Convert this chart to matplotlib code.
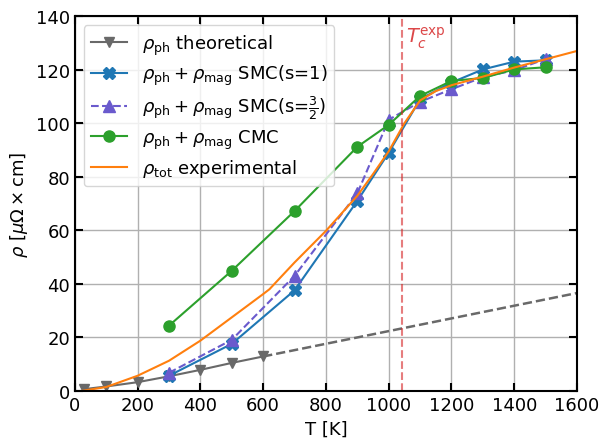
import numpy as np
import matplotlib
matplotlib.use("Agg")
import matplotlib.pyplot as plt

# phonon part (theory), dashed extrapolation above 600 K
T_ph = [30, 100, 200, 300, 400, 500, 600]
rho_ph = [0.7, 1.7, 3.3, 5.5, 7.9, 10.5, 12.9]
T_ph_ext = [600, 1600]
rho_ph_ext = [12.9, 36.6]

T_mc = [300, 500, 700, 900, 1000, 1100, 1200, 1300, 1400, 1500]
rho_smc1 = [5.7, 17.6, 37.6, 71.0, 89.0, 109.0, 115.2, 120.1, 123.0, 123.5]
rho_smc32 = [6.8, 19.1, 43.0, 73.8, 101.3, 108.0, 112.7, 117.2, 119.8, 124.0]
rho_cmc = [24.4, 44.9, 67.2, 91.2, 99.4, 110.2, 115.8, 116.9, 120.1, 120.9]

# experimental total resistivity
T_exp = [20, 100, 200, 300, 400, 500, 600, 620, 700, 800, 900, 950, 1000,
         1050, 1100, 1150, 1200, 1300, 1400, 1500, 1600]
rho_exp = [0.0, 1.5, 5.7, 11.3, 18.8, 27.5, 36.2, 38.0, 48.0, 59.8, 72.9, 81.0,
           89.5, 100.0, 108.5, 112.0, 114.2, 117.4, 120.8, 123.9, 127.0]

Tc = 1043

fig = plt.figure(figsize=(6.03, 4.39), dpi=100)
ax = fig.add_axes([0.124, 0.107, 0.833, 0.854])

ax.plot(T_ph, rho_ph, color='dimgray', marker='v', ms=7, lw=1.5,
        label=r'$\rho_{\rm ph}$ theoretical')
ax.plot(T_ph_ext, rho_ph_ext, color='dimgray', ls='--', lw=1.8)
ax.plot(T_mc, rho_smc1, color='tab:blue', marker='X', ms=8, lw=1.5,
        label=r'$\rho_{\rm ph}+\rho_{\rm mag}$ SMC(s=1)')
ax.plot(T_mc, rho_smc32, color='slateblue', marker='^', ms=8, lw=1.5, ls='--',
        label=r'$\rho_{\rm ph}+\rho_{\rm mag}$ SMC(s=$\frac{3}{2}$)')
ax.plot(T_mc, rho_cmc, color='tab:green', marker='o', ms=8, lw=1.5,
        label=r'$\rho_{\rm ph}+\rho_{\rm mag}$ CMC')
ax.plot(T_exp, rho_exp, color='tab:orange', lw=1.5,
        label=r'$\rho_{\rm tot}$ experimental')

ax.axvline(Tc, color='tab:red', ls='--', lw=1.5, alpha=0.6)
ax.text(Tc + 12, 130.3, r'$T_c^{\rm exp}$', color='tab:red', fontsize=14,
        alpha=0.85, va='baseline')

ax.set_xlim(0, 1600)
ax.set_ylim(0, 140)
ax.set_xticks(np.arange(0, 1601, 200))
ax.set_yticks(np.arange(0, 141, 20))
ax.grid(True, color='#b0b0b0', lw=1)
ax.set_axisbelow(True)
ax.tick_params(direction='in', length=6, width=1.5, top=True, right=True,
               labelsize=13)
for s in ax.spines.values():
    s.set_linewidth(1.5)

ax.set_xlabel('T [K]', fontsize=13)
ax.set_ylabel(r'$\rho$ [$\mu\Omega\times$cm]', fontsize=13)
ax.legend(loc='upper left', fontsize=13, labelspacing=0.35)

fig.savefig('out.png', dpi=100)
